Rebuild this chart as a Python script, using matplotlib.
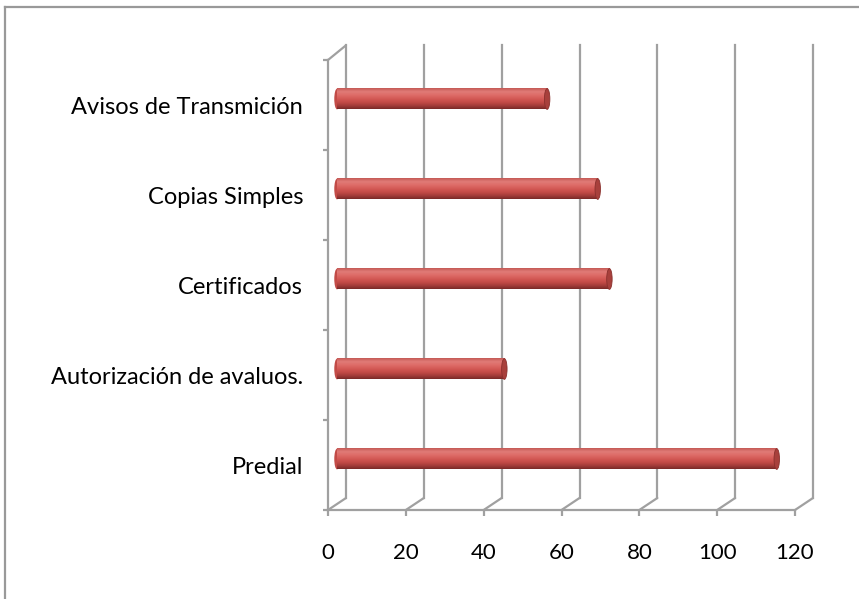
import matplotlib.pyplot as plt
import matplotlib.transforms as mtransforms
from matplotlib.colors import LinearSegmentedColormap
from matplotlib.patches import Ellipse, ConnectionPatch
from matplotlib.lines import Line2D
import numpy as np

categories = ["Predial", "Autorización de avaluos.", "Certificados",
              "Copias Simples", "Avisos de Transmición"]
values = [113, 43, 70, 67, 54]
xticks = [0, 20, 40, 60, 80, 100, 120]

plt.rcParams['font.family'] = ['Lato', 'DejaVu Sans']
grid_c = '#a0a0a0'
lw = 1.6

fig = plt.figure(figsize=(8.59, 5.99), dpi=100)
W, H = 859, 599
ax = fig.add_axes([328 / W, 1 - 510 / H, 467 / W, 450 / H])
ax.set_xlim(0, 120)
ax.set_ylim(-0.5, 4.5)

# outer chart border
fig.add_artist(Line2D([5 / W, 5 / W], [0, 1 - 7 / H], transform=fig.transFigure,
                      color='#999999', lw=1.6))
fig.add_artist(Line2D([5 / W, 1], [1 - 7 / H, 1 - 7 / H], transform=fig.transFigure,
                      color='#999999', lw=1.6))

back_tr = ax.transData + mtransforms.ScaledTranslation(0.18, 0.12, fig.dpi_scale_trans)
bar_tr = ax.transData + mtransforms.ScaledTranslation(0.09, 0.06, fig.dpi_scale_trans)

# back wall gridlines
for v in xticks:
    ax.plot([v, v], [-0.5, 4.53], transform=back_tr, color=grid_c, lw=lw,
            clip_on=False, zorder=1)
    con = ConnectionPatch(xyA=(v, -0.5), coordsA=ax.transData,
                          xyB=(v, -0.5), coordsB=back_tr,
                          color=grid_c, lw=lw, zorder=1)
    ax.add_artist(con)
con = ConnectionPatch(xyA=(0, 4.5), coordsA=ax.transData,
                      xyB=(0, 4.53), coordsB=back_tr, color=grid_c, lw=lw, zorder=1)
ax.add_artist(con)

# cylinder bars
h = 0.23
cmap = LinearSegmentedColormap.from_list(
    'cyl', ['#7a2a28', '#a63d3a', '#c54c48', '#d45a56', '#de6c68', '#e07b77', '#c55a56'])
grad = np.linspace(0, 1, 64).reshape(-1, 1)
y = np.arange(len(categories))
bars = ax.barh(y, values, height=h, color='#c9504c', transform=bar_tr,
               zorder=3, clip_on=False)
for yi, val, p in zip(y, values, bars):
    left = Ellipse((0, yi), 1.4, h, facecolor='#c24b47', transform=bar_tr,
                   zorder=2.9, clip_on=False)
    ax.add_patch(left)
    im = ax.imshow(grad, extent=(0, val, yi - h / 2, yi + h / 2), origin='lower',
                   cmap=cmap, aspect='auto', transform=bar_tr, zorder=3.1,
                   clip_on=False)
    im.set_clip_path(p)
    cap = Ellipse((val, yi), 1.4, h, facecolor='#a8403c', edgecolor='#8a302d',
                  lw=0.6, transform=bar_tr, zorder=3.2, clip_on=False)
    ax.add_patch(cap)

ax.set_xlim(0, 120)
ax.set_ylim(-0.5, 4.5)
ax.set_aspect('auto')

for s in ['top', 'right']:
    ax.spines[s].set_visible(False)
for s in ['left', 'bottom']:
    ax.spines[s].set_color(grid_c)
    ax.spines[s].set_linewidth(lw)

ax.set_xticks(xticks)
ax.set_xticklabels([str(t) for t in xticks])
ax.tick_params(axis='x', direction='out', length=4.5, width=lw, color=grid_c,
               pad=19, labelsize=16, labelcolor='black')
ax.set_yticks(y)
ax.set_yticklabels(categories)
ax.tick_params(axis='y', length=0, pad=18, labelsize=17, labelcolor='black')
ax.set_yticks(np.arange(-0.5, 5, 1), minor=True)
ax.tick_params(axis='y', which='minor', direction='out', length=3.6, width=lw,
               color=grid_c)
ax.patch.set_visible(False)

fig.savefig('out.png', dpi=100)
